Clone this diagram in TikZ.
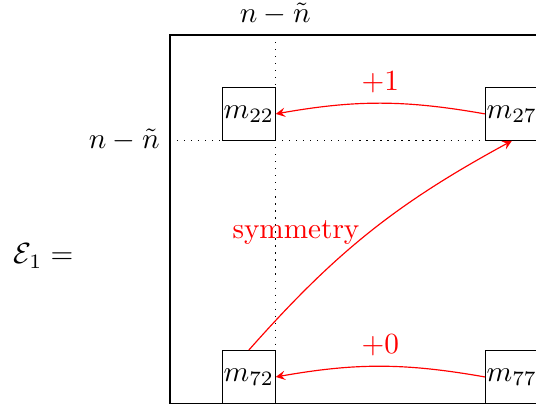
\documentclass[tikz,border=0pt]{standalone}
\usepackage{amsmath,amssymb}
\usepackage{tikz}
\usetikzlibrary{positioning, calc}
\usetikzlibrary{arrows.meta}

\begin{document}
\begin{tikzpicture}[>=stealth, x=18pt, y=-18pt,
  cella/.style={draw, minimum size=18pt, inner sep=0pt},
  freccia/.style={->, red}]

\useasboundingbox (-3.23,-0.665) rectangle (6.958,7.13);

%------------------------------------------------
% Matrice E_1: cornice e linee guida
%------------------------------------------------
\draw (0,0) rectangle (7,7);
\draw[dotted] (2,0) -- (2,7);
\draw[dotted] (0,2) -- (7,2);

% Etichette dei blocchi
\node[above] (ntop) at (2,0) {$n-\tilde{n}$};
\node[left] (nleft) at (0,2) {$n-\tilde{n}$};
\node (nome) at (-2.4,4.2) {$\mathcal{E}_1 =$};

% Elementi della matrice
\node[cella] (m22) at (1.5,1.5) {$m_{22}$};
\node[cella] (m27) at (6.5,1.5) {$m_{27}$};
\node[cella] (m72) at (1.5,6.5) {$m_{72}$};
\node[cella] (m77) at (6.5,6.5) {$m_{77}$};

% Frecce tra gli elementi
\draw[freccia] (m27.west) to[bend right=10] node[above] {$+1$} (m22.east);
\draw[freccia] (m77.west) to[bend right=10] node[above] {$+0$} (m72.east);
\draw[freccia] (m72.north) to[bend left=10] node[midway, left] {symmetry} (m27.south);
\end{tikzpicture}
\end{document}
